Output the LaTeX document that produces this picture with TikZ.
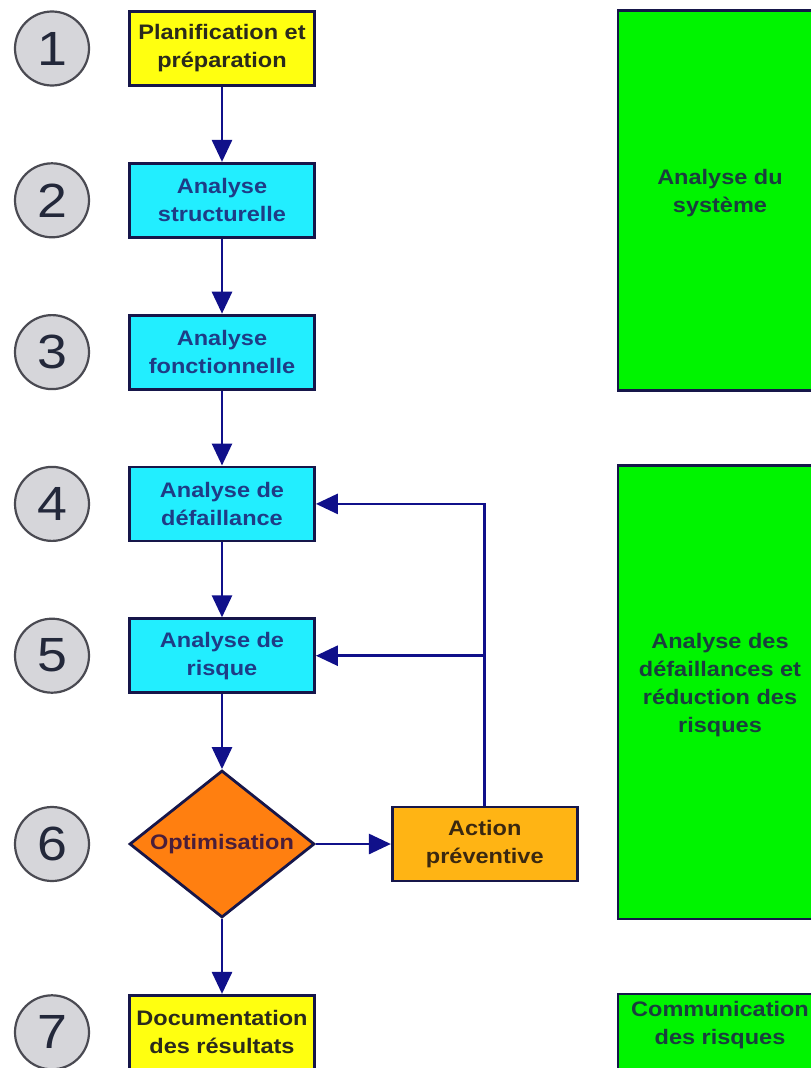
\documentclass[tikz,border=0pt]{standalone}
\usepackage{fontspec}
\setmainfont{Liberation Sans}[FakeStretch=1.12]
\usetikzlibrary{positioning, shapes.geometric, arrows.meta, fit}
\definecolor{edge}{HTML}{16164A}
\definecolor{arrowblue}{HTML}{10108A}
\definecolor{sunyellow}{HTML}{FFFF10}
\definecolor{skycyan}{HTML}{22EEFF}
\definecolor{optorange}{HTML}{FF7F10}
\definecolor{amber}{HTML}{FFB414}
\definecolor{zonegreen}{HTML}{00F400}
\definecolor{ringfill}{HTML}{D6D6DA}
\definecolor{ring}{HTML}{4A4A52}
\definecolor{digit}{HTML}{23283A}
\definecolor{darktext}{HTML}{2A2A1C}
\definecolor{bluetext}{HTML}{1E3C86}
\definecolor{purpletext}{HTML}{4A1E3A}
\definecolor{browntext}{HTML}{3A2810}
\definecolor{zonetext}{HTML}{1A3E3E}
\begin{document}
\begin{tikzpicture}[x = 1pt, y = 1pt, node distance = 75pt,
	box/.style = {draw = edge, line width = 2.8pt, minimum width = 185pt, minimum height = 74pt, align = center, inner sep = 2pt, font = \bfseries\fontsize{21}{28}\selectfont},
	decision/.style = {draw = edge, fill = optorange, text = purpletext, diamond, aspect = 1.25, line width = 2.8pt, minimum width = 185pt, minimum height = 147pt, inner sep = 0pt, font = \bfseries\fontsize{21}{28}\selectfont},
	num/.style = {draw = ring, fill = ringfill, circle, line width = 2.2pt, minimum size = 74pt, inner sep = 0pt, text = digit, font = \fontsize{48}{48}\selectfont},
	zone/.style = {draw = edge, fill = zonegreen, text = zonetext, line width = 2.8pt, align = center, inner sep = 0pt, font = \bfseries\fontsize{21}{28}\selectfont},
	arr/.style = {draw = arrowblue, line width = 2.8pt, -{Triangle[length = 22pt, width = 20pt]}}]
			\useasboundingbox (0,0) rectangle (811,-1068);
			\node[box, fill = sunyellow, text = darktext] (1) at (222,-48.5) {Planification et\\préparation};
			\node[box, fill = skycyan, text = bluetext, below = of 1] (2) {Analyse\\structurelle};
			\node[box, fill = skycyan, text = bluetext, below = of 2] (3) {Analyse\\fonctionnelle};
			\node[box, fill = skycyan, text = bluetext, below = of 3] (4) {Analyse de\\défaillance};
			\node[box, fill = skycyan, text = bluetext, below = of 4] (5) {Analyse de\\risque};
			\node[decision, below = of 5] (6) {Optimisation};
			\node[box, fill = amber, text = browntext, right = of 6] (a) {Action\\préventive};
			\node[box, fill = sunyellow, text = darktext, below = of 6] (7) {Documentation\\des résultats};
			% step numbers
			\node[num, left = 38pt of 1] (c1) {1};
			\node[num, left = 38pt of 2] (c2) {2};
			\node[num, left = 38pt of 3] (c3) {3};
			\node[num, left = 38pt of 4] (c4) {4};
			\node[num, left = 38pt of 5] (c5) {5};
			\node[num, left = 38pt of 6] (c6) {6};
			\node[num, left = 38pt of 7] (c7) {7};
			% phases
			\coordinate (zl) at (618,0);
			\coordinate (zr) at (822,0);
			\node[zone, fit = (1.north -| zl) (3.south -| zr)] (z1) {Analyse du\\système};
			\node[zone, fit = (4.north -| zl) (6.south -| zr)] (z2) {Analyse des\\défaillances et\\réduction des\\risques};
			\node[zone, fit = (7.north -| zl) (7.south -| zr)] (z3) {Communication\\des risques};
			% flow
			\draw[arr] (1) -- (2);
			\draw[arr] (2) -- (3);
			\draw[arr] (3) -- (4);
			\draw[arr] (4) -- (5);
			\draw[arr] (5) -- (6);
			\draw[arr] (6) -- (a);
			\draw[arr] (6) -- (7);
			\draw[arr] (a) |- (4);
			\coordinate (j5) at (a.north |- 5.east);
			\draw[arr] (j5) -- (5);
		\end{tikzpicture}
\end{document}
